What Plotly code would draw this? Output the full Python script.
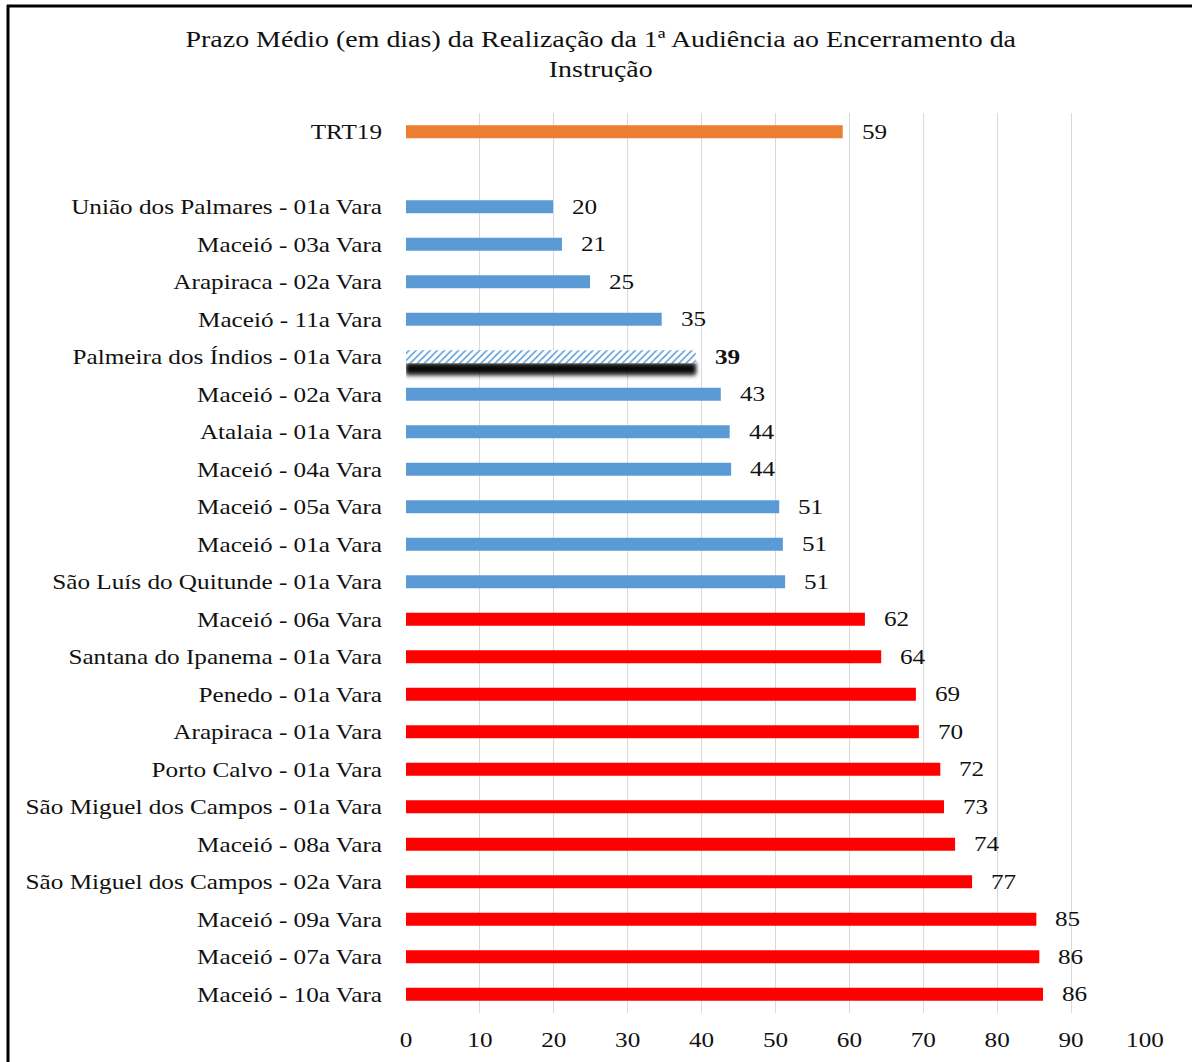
import plotly.graph_objects as go

categories = [
    "TRT19", " ",
    "União dos Palmares - 01a Vara", "Maceió - 03a Vara", "Arapiraca - 02a Vara",
    "Maceió - 11a Vara", "Palmeira dos Índios - 01a Vara", "Maceió - 02a Vara",
    "Atalaia - 01a Vara", "Maceió - 04a Vara", "Maceió - 05a Vara", "Maceió - 01a Vara",
    "São Luís do Quitunde - 01a Vara", "Maceió - 06a Vara", "Santana do Ipanema - 01a Vara",
    "Penedo - 01a Vara", "Arapiraca - 01a Vara", "Porto Calvo - 01a Vara",
    "São Miguel dos Campos - 01a Vara", "Maceió - 08a Vara", "São Miguel dos Campos - 02a Vara",
    "Maceió - 09a Vara", "Maceió - 07a Vara", "Maceió - 10a Vara",
]
values = [59.1, None, 19.9, 21.1, 24.9, 34.6, 39.2, 42.6, 43.8, 44.0, 50.5, 51.0, 51.3,
          62.1, 64.3, 69.0, 69.4, 72.3, 72.8, 74.3, 76.6, 85.3, 85.7, 86.2]
labels = ["59", "", "20", "21", "25", "35", "39", "43", "44", "44", "51", "51", "51",
          "62", "64", "69", "70", "72", "73", "74", "77", "85", "86", "86"]
groups = ["total", "", "blue", "blue", "blue", "blue", "highlight", "blue", "blue", "blue",
          "blue", "blue", "blue", "red", "red", "red", "red", "red", "red", "red", "red",
          "red", "red", "red"]
x_ticks = [0, 10, 20, 30, 40, 50, 60, 70, 80, 90, 100]

color_map = {"total": "#ED7D31", "blue": "#5B9BD5", "red": "#FF0000", "highlight": "#5B9BD5", "": "white"}
FONT = "Liberation Serif, Times New Roman, serif"
TXT = "#111111"

fig = go.Figure()

hl_y = [c for c, g in zip(categories, groups) if g == "highlight"]
hl_x = [v for v, g in zip(values, groups) if g == "highlight"]

# soft shadow under the highlighted bar (blurred in post_script)
fig.add_trace(go.Bar(
    y=hl_y, x=hl_x, orientation="h", width=0.38, offset=0.14,
    marker=dict(color="rgba(0,0,0,0.4)", line=dict(width=0)),
    hoverinfo="skip", showlegend=False,
))
fig.add_trace(go.Bar(
    y=hl_y, x=hl_x, orientation="h", width=0.28, offset=0.18,
    marker=dict(color="rgba(0,0,0,0.95)", line=dict(width=0)),
    hoverinfo="skip", showlegend=False,
))

# regular bars
fig.add_trace(go.Bar(
    y=categories,
    x=[v if g != "highlight" else None for v, g in zip(values, groups)],
    orientation="h", width=0.35,
    marker=dict(color=[color_map[g] for g in groups], line=dict(width=0)),
    showlegend=False,
))

# hatched highlighted bar
fig.add_trace(go.Bar(
    y=hl_y, x=hl_x, orientation="h", width=0.35,
    marker=dict(
        color="#5B9BD5", line=dict(width=0),
        pattern=dict(shape="/", fillmode="replace", bgcolor="white",
                     fgcolor="#5B9BD5", size=5, solidity=0.3),
    ),
    showlegend=False,
))

for c, v, t, g in zip(categories, values, labels, groups):
    if v is None:
        continue
    fig.add_annotation(
        x=v, y=c, text=f"<b>{t}</b>" if g == "highlight" else t,
        xanchor="left", yanchor="middle", xshift=19, showarrow=False,
        font=dict(family=FONT, size=21, color=TXT),
    )

W, H = 1192, 1062
L, R, T, B = 406, 47, 113, 49
pw, ph = W - L - R, H - T - B

def px_x(p):
    return (p - L) / pw

def px_y(p):
    return (H - B - p) / ph

fig.add_shape(type="line", xref="paper", yref="paper",
              x0=px_x(7), x1=px_x(1192), y0=px_y(6), y1=px_y(6),
              line=dict(color="black", width=3))
fig.add_shape(type="line", xref="paper", yref="paper",
              x0=px_x(8), x1=px_x(8), y0=px_y(5), y1=px_y(1062),
              line=dict(color="black", width=3))

fig.update_layout(
    width=W, height=H,
    margin=dict(l=L, r=R, t=T, b=B, autoexpand=False),
    paper_bgcolor="white", plot_bgcolor="white",
    font=dict(family=FONT, size=21, color=TXT),
    title=dict(
        text="Prazo Médio (em dias) da Realização da 1ª Audiência ao Encerramento da<br>Instrução",
        x=0.504, xanchor="center", xref="container",
        y=1 - 47 / H, yanchor="middle",
        font=dict(family=FONT, size=23, color=TXT),
    ),
    barmode="overlay",
    bargap=0.65,
)
fig.update_xaxes(
    range=[0, 100], tickvals=x_ticks, showgrid=True, gridcolor="#D9D9D9", gridwidth=1,
    zeroline=False, showline=False, ticks="", ticklabelstandoff=12, automargin=False,
    tickfont=dict(family=FONT, size=21, color=TXT),
)
fig.update_yaxes(
    categoryorder="array", categoryarray=categories,
    range=[len(categories) - 0.5, -0.5], automargin=False,
    showgrid=False, zeroline=False, showline=False, ticks="", ticklabelstandoff=23,
    tickfont=dict(family=FONT, size=21, color=TXT),
)

post = """
document.body.style.margin = '0px';
var ns = 'http://www.w3.org/2000/svg';
var svg = document.querySelector('.main-svg');
var defs = svg.querySelector('defs');
if (!defs) { defs = document.createElementNS(ns, 'defs'); svg.insertBefore(defs, svg.firstChild); }
var f = document.createElementNS(ns, 'filter');
f.setAttribute('id', 'shadowblur');
f.setAttribute('x', '-10%'); f.setAttribute('y', '-150%');
f.setAttribute('width', '120%'); f.setAttribute('height', '400%');
var gb = document.createElementNS(ns, 'feGaussianBlur');
gb.setAttribute('stdDeviation', '2');
f.appendChild(gb); defs.appendChild(f);
var tr = document.querySelectorAll('.barlayer .trace');
if (tr.length > 1) { tr[0].setAttribute('filter', 'url(#shadowblur)'); tr[1].setAttribute('filter', 'url(#shadowblur)'); }
document.querySelectorAll('.main-svg text').forEach(function (t) {
  var x = parseFloat(t.getAttribute('x')) || 0;
  var old = t.getAttribute('transform') || '';
  var s = t.classList.contains('gtitle') ? 1.215 : 1.2;
  t.setAttribute('transform', old + ' translate(' + x + ',0) scale(' + s + ',1) translate(' + (-x) + ',0)');
});
"""
fig.write_html("out.html", post_script=post, config={"displayModeBar": False})
